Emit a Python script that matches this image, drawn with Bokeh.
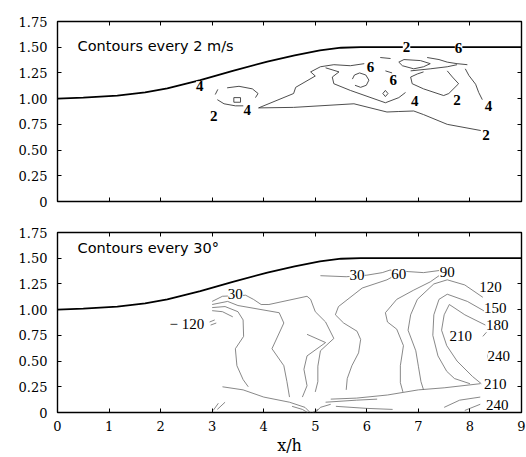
from bokeh.plotting import figure
from bokeh.layouts import column
from bokeh.models import (LinearAxis, FixedTicker, ColumnDataSource, LabelSet,
                          Label, Range1d)
from bokeh.embed import file_html
from bokeh.resources import INLINE

# ---------------- data ----------------
X_TICKS = [0, 1, 2, 3, 4, 5, 6, 7, 8, 9]
Y_TICKS = [0, 0.25, 0.5, 0.75, 1.0, 1.25, 1.5, 1.75]
Y_TICK_LABELS = ["0", "0.25", "0.50", "0.75", "1.00", "1.25", "1.50", "1.75"]
X_LABEL = "x/h"

TOP_TITLE = "Contours every 2 m/s"
BOT_TITLE = "Contours every 30°"

# hill / wall profile (same in both panels)
WALL_X = [0.0, 0.5, 1.16, 1.7, 2.13, 2.77, 3.4, 4.07, 4.6, 5.09, 5.5, 5.88, 9.0]
WALL_Y = [1.0, 1.01, 1.03, 1.06, 1.10, 1.18, 1.27, 1.36, 1.42, 1.47, 1.495, 1.50, 1.50]

# top panel: speed contours (each: xs, ys)
TOP_C4_UPPER_X = [3.90, 4.58, 4.62, 5.00, 4.91, 5.10, 5.36, 5.68, 5.95]
TOP_C4_UPPER_Y = [0.91, 1.05, 1.11, 1.22, 1.26, 1.31, 1.33, 1.32, 1.34]
TOP_C4_LOWER_X = [3.90, 4.58, 5.75, 6.39, 6.62, 6.91, 7.10, 7.56, 8.21]
TOP_C4_LOWER_Y = [0.91, 0.915, 0.95, 0.87, 0.875, 0.88, 0.845, 0.75, 0.69]
TOP_C6_INNER_X = [5.20, 5.46, 5.33, 5.36, 5.68, 6.36, 6.62, 6.75]
TOP_C6_INNER_Y = [1.30, 1.26, 1.21, 1.145, 1.08, 0.96, 1.01, 1.06]
TOP_ELLIPSE_X = [5.72, 5.76, 5.86, 5.98, 6.04, 5.99, 5.88, 5.77]
TOP_ELLIPSE_Y = [1.19, 1.23, 1.25, 1.23, 1.18, 1.13, 1.11, 1.13]
TOP_SMALL_X = [6.31, 6.36, 6.41, 6.36, 6.31]
TOP_SMALL_Y = [1.05, 1.08, 1.05, 1.02, 1.05]
TOP_LOOP_X = [6.62, 6.72, 7.04, 7.23, 7.10, 6.91, 6.69, 6.62]
TOP_LOOP_Y = [1.355, 1.38, 1.37, 1.34, 1.31, 1.29, 1.32, 1.355]
TOP_QUAD_X = [7.10, 6.98, 6.85, 6.88, 7.10, 7.49, 7.59, 7.78, 7.66, 7.56]
TOP_QUAD_Y = [1.26, 1.24, 1.21, 1.145, 1.095, 1.03, 1.05, 1.145, 1.21, 1.27]
TOP_MID_X = [6.85, 7.23, 7.56, 7.75]
TOP_MID_Y = [1.27, 1.29, 1.31, 1.33]
TOP_UR_X = [7.17, 7.40, 7.56, 7.75, 7.95]
TOP_UR_Y = [1.40, 1.38, 1.355, 1.34, 1.33]
TOP_C4_RIGHT_X = [7.91, 7.98, 8.11, 8.17, 8.24]
TOP_C4_RIGHT_Y = [1.29, 1.225, 1.14, 1.06, 0.99]
TOP_SHORT1_X = [6.36, 6.49]
TOP_SHORT1_Y = [1.27, 1.25]
TOP_SHORT2_X = [6.26, 6.46]
TOP_SHORT2_Y = [1.40, 1.39]
TOP_C2_LOW_X = [3.10, 3.23, 3.45, 3.61]
TOP_C2_LOW_Y = [0.99, 0.95, 0.93, 0.93]
TOP_C2_UP_X = [3.29, 3.52, 3.78, 3.89, 3.84]
TOP_C2_UP_Y = [1.105, 1.12, 1.095, 1.05, 1.01]
TOP_TICK_X = [3.06, 3.11]
TOP_TICK_Y = [1.04, 1.09]
TOP_SQ_X = [3.42, 3.55, 3.55, 3.42, 3.42]
TOP_SQ_Y = [0.965, 0.965, 1.01, 1.01, 0.965]

TOP_LAB_X = [2.76, 6.77, 7.78, 3.03, 3.68, 6.07, 6.51, 6.93, 7.75, 8.36, 8.31]
TOP_LAB_Y = [1.12, 1.50, 1.49, 0.835, 0.89, 1.31, 1.18, 0.98, 0.99, 0.93, 0.65]
TOP_LAB_T = ["4", "2", "6", "2", "4", "6", "6", "4", "2", "4", "2"]

# bottom panel: direction contours
BOT_TOP_X = [5.10, 5.60, 6.00, 6.30, 6.45, 6.80, 7.10, 7.40]
BOT_TOP_Y = [1.33, 1.32, 1.335, 1.36, 1.385, 1.37, 1.36, 1.38]
BOT_60_X = [6.50, 6.39, 5.91, 5.45, 5.39, 5.55, 5.81, 5.88, 5.84, 5.71, 5.62, 5.60]
BOT_60_Y = [1.32, 1.29, 1.21, 1.03, 0.95, 0.87, 0.79, 0.71, 0.58, 0.455, 0.33, 0.22]
BOT_90_X = [7.40, 7.23, 6.91, 6.58, 6.36, 6.40, 6.58, 6.71, 6.65, 6.65, 6.70]
BOT_90_Y = [1.33, 1.27, 1.19, 1.10, 0.97, 0.88, 0.81, 0.65, 0.455, 0.29, 0.20]
BOT_120_X = [8.25, 7.90, 7.56, 7.30, 6.98, 6.85, 6.80, 6.95, 7.00, 7.05, 7.10]
BOT_120_Y = [1.12, 1.24, 1.29, 1.25, 1.10, 0.95, 0.80, 0.60, 0.45, 0.30, 0.22]
BOT_150_X = [8.30, 7.95, 7.56, 7.40, 7.30, 7.28, 7.38, 7.55, 7.70, 8.00]
BOT_150_Y = [0.98, 1.08, 1.15, 1.10, 0.95, 0.75, 0.55, 0.40, 0.33, 0.28]
BOT_180_X = [8.30, 7.90, 7.60, 7.50, 7.45, 7.55, 7.75, 8.05, 8.22]
BOT_180_Y = [0.85, 0.95, 1.05, 0.95, 0.80, 0.65, 0.50, 0.35, 0.28]
BOT_210_X = [8.25, 8.32]
BOT_210_Y = [0.74, 0.78]
BOT_240_X = [8.37, 8.34, 8.37]
BOT_240_Y = [0.59, 0.55, 0.50]
BOT_30L_X = [3.00, 3.20, 3.65, 3.80, 3.95, 4.10, 4.84, 4.91, 5.00, 5.20, 5.36, 5.10, 5.05, 5.05, 5.00]
BOT_30L_Y = [1.08, 1.13, 1.14, 1.10, 1.05, 1.05, 1.13, 1.10, 0.98, 0.88, 0.72, 0.60, 0.45, 0.30, 0.20]
BOT_L2_X = [3.00, 3.30, 3.50, 4.30, 4.39, 4.16, 4.39, 4.45, 4.50]
BOT_L2_Y = [1.05, 1.08, 1.04, 0.97, 0.87, 0.62, 0.455, 0.30, 0.15]
BOT_L3_X = [3.00, 3.25, 3.50, 3.60, 3.61, 3.45, 3.48, 3.60, 3.70]
BOT_L3_Y = [1.02, 1.03, 0.98, 0.90, 0.74, 0.62, 0.455, 0.32, 0.25]
BOT_L4_X = [3.00, 3.20, 3.40]
BOT_L4_Y = [0.99, 0.98, 0.93]
BOT_V_X = [4.84, 5.20, 4.84, 4.78, 4.84, 4.75]
BOT_V_Y = [0.76, 0.68, 0.55, 0.42, 0.26, 0.15]
BOT_H1_X = [3.20, 3.60, 4.00, 4.50, 4.80, 4.90]
BOT_H1_Y = [0.25, 0.22, 0.15, 0.10, 0.05, 0.00]
BOT_H2_X = [5.30, 5.80, 6.40, 7.00, 7.50, 8.20]
BOT_H2_Y = [0.13, 0.14, 0.17, 0.22, 0.24, 0.28]
BOT_H3_X = [5.20, 5.80, 6.20]
BOT_H3_Y = [0.10, 0.12, 0.13]
BOT_H4_X = [5.40, 6.00, 6.50]
BOT_H4_Y = [0.06, 0.04, 0.03]
BOT_H5_X = [7.50, 7.80, 8.20]
BOT_H5_Y = [0.05, 0.12, 0.15]
BOT_H6_X = [7.90, 8.20]
BOT_H6_Y = [0.02, 0.08]
BOT_M1_X = [2.95, 3.05]
BOT_M1_Y = [0.88, 0.90]
BOT_M2_X = [2.97, 3.08]
BOT_M2_Y = [0.85, 0.87]
BOT_M3_X = [3.02, 3.12]
BOT_M3_Y = [0.02, 0.09]
BOT_M4_X = [3.10, 3.25]
BOT_M4_Y = [0.03, 0.10]
BOT_A1_X = [4.55, 4.75, 4.85]
BOT_A1_Y = [0.06, 0.03, 0.00]
BOT_A2_X = [5.00, 5.10, 5.30]
BOT_A2_Y = [0.00, 0.05, 0.08]
BOT_A3_X = [4.95, 5.05]
BOT_A3_Y = [0.00, 0.03]

BOT_LAB_X = [5.81, 6.62, 7.56, 8.40, 8.49, 8.53, 7.82, 8.56, 8.49, 8.53, 3.45, 2.51]
BOT_LAB_Y = [1.337, 1.35, 1.37, 1.22, 1.016, 0.846, 0.743, 0.551, 0.279, 0.07, 1.154, 0.862]
BOT_LAB_T = ["30", "60", "90", "120", "150", "180", "210", "240", "210", "240", "30", "\u2212 120"]

TOP_LINES = [(TOP_C4_UPPER_X, TOP_C4_UPPER_Y), (TOP_C4_LOWER_X, TOP_C4_LOWER_Y),
             (TOP_C6_INNER_X, TOP_C6_INNER_Y), (TOP_ELLIPSE_X, TOP_ELLIPSE_Y),
             (TOP_SMALL_X, TOP_SMALL_Y), (TOP_LOOP_X, TOP_LOOP_Y),
             (TOP_QUAD_X, TOP_QUAD_Y), (TOP_MID_X, TOP_MID_Y), (TOP_UR_X, TOP_UR_Y),
             (TOP_C4_RIGHT_X, TOP_C4_RIGHT_Y), (TOP_SHORT1_X, TOP_SHORT1_Y),
             (TOP_SHORT2_X, TOP_SHORT2_Y), (TOP_C2_LOW_X, TOP_C2_LOW_Y),
             (TOP_C2_UP_X, TOP_C2_UP_Y), (TOP_TICK_X, TOP_TICK_Y), (TOP_SQ_X, TOP_SQ_Y)]
BOT_LINES = [(BOT_TOP_X, BOT_TOP_Y), (BOT_60_X, BOT_60_Y), (BOT_90_X, BOT_90_Y),
             (BOT_120_X, BOT_120_Y), (BOT_150_X, BOT_150_Y), (BOT_180_X, BOT_180_Y),
             (BOT_210_X, BOT_210_Y), (BOT_240_X, BOT_240_Y), (BOT_30L_X, BOT_30L_Y),
             (BOT_L2_X, BOT_L2_Y), (BOT_L3_X, BOT_L3_Y), (BOT_L4_X, BOT_L4_Y),
             (BOT_V_X, BOT_V_Y), (BOT_H1_X, BOT_H1_Y), (BOT_H2_X, BOT_H2_Y),
             (BOT_H3_X, BOT_H3_Y), (BOT_H4_X, BOT_H4_Y), (BOT_H5_X, BOT_H5_Y),
             (BOT_H6_X, BOT_H6_Y), (BOT_M1_X, BOT_M1_Y), (BOT_M2_X, BOT_M2_Y),
             (BOT_M3_X, BOT_M3_Y), (BOT_M4_X, BOT_M4_Y), (BOT_A1_X, BOT_A1_Y),
             (BOT_A2_X, BOT_A2_Y), (BOT_A3_X, BOT_A3_Y)]

SERIF = "DejaVu Serif"
SANS = "DejaVu Sans"


def blank(ticks):
    return {t: "" for t in ticks}


def make_panel(height, top_border, bottom_border, show_x_labels):
    p = figure(width=526, height=height, output_backend="svg", toolbar_location=None,
               x_range=Range1d(0, 9), y_range=Range1d(0, 1.75),
               min_border_left=57, min_border_right=5,
               min_border_top=top_border, min_border_bottom=bottom_border,
               background_fill_color="white", border_fill_color="white")
    p.xgrid.visible = False
    p.ygrid.visible = False
    p.outline_line_color = "black"
    p.outline_line_width = 1.4
    p.outline_line_alpha = 1.0

    for ax in p.xaxis:
        ax.ticker = FixedTicker(ticks=X_TICKS)
        ax.major_tick_in = 4
        ax.major_tick_out = 0
        ax.minor_tick_line_color = None
        ax.axis_line_color = None
        ax.major_label_text_font = SERIF
        ax.major_label_text_color = "black"
        ax.major_label_text_font_size = "13px"
        if show_x_labels:
            ax.major_label_standoff = 8
            ax.axis_label = X_LABEL
            ax.axis_label_text_font = SERIF
            ax.axis_label_text_font_size = "16px"
            ax.axis_label_text_font_style = "normal"
            ax.axis_label_text_color = "black"
            ax.axis_label_standoff = 2
        else:
            ax.major_label_overrides = blank(X_TICKS)
            ax.major_label_standoff = 0
    for ax in p.yaxis:
        ax.ticker = FixedTicker(ticks=Y_TICKS)
        ax.major_label_overrides = {t: s for t, s in zip(Y_TICKS, Y_TICK_LABELS)}
        ax.major_tick_in = 4
        ax.major_tick_out = 0
        ax.minor_tick_line_color = None
        ax.axis_line_color = None
        ax.major_label_text_font = SERIF
        ax.major_label_text_font_size = "13px"
        ax.major_label_text_color = "black"
        ax.major_label_standoff = 10

    top_ax = LinearAxis(ticker=FixedTicker(ticks=X_TICKS), major_tick_in=4, major_tick_out=0,
                        minor_tick_line_color=None, axis_line_color=None,
                        major_label_overrides=blank(X_TICKS), major_label_standoff=0)
    right_ax = LinearAxis(ticker=FixedTicker(ticks=Y_TICKS), major_tick_in=4, major_tick_out=0,
                          minor_tick_line_color=None, axis_line_color=None,
                          major_label_overrides=blank(Y_TICKS), major_label_standoff=0)
    p.add_layout(top_ax, "above")
    p.add_layout(right_ax, "right")
    return p


def add_content(p, lines, lab_x, lab_y, lab_t, bold, title, title_y, color, width):
    p.multi_line(xs=[l[0] for l in lines], ys=[l[1] for l in lines],
                 line_color=color, line_width=width)
    p.line(WALL_X, WALL_Y, line_color="black", line_width=1.8)
    src = ColumnDataSource(dict(x=lab_x, y=lab_y, t=lab_t))
    p.add_layout(LabelSet(x="x", y="y", text="t", source=src,
                          text_align="center", text_baseline="middle",
                          text_font=SERIF, text_font_size="15px",
                          text_font_style="bold" if bold else "normal",
                          text_color="black",
                          background_fill_color="white", background_fill_alpha=1.0))
    p.add_layout(Label(x=0.39, y=title_y, text=title, text_font=SANS,
                       text_font_size="14.5px", text_baseline="middle",
                       text_align="left", text_color="black"))


top = make_panel(211, 21, 10, False)
add_content(top, TOP_LINES, TOP_LAB_X, TOP_LAB_Y, TOP_LAB_T, True, TOP_TITLE, 1.51,
            "#3a3a3a", 0.9)

bot = make_panel(246, 21, 43, True)
add_content(bot, BOT_LINES, BOT_LAB_X, BOT_LAB_Y, BOT_LAB_T, False, BOT_TITLE, 1.60,
            "#6a6a6a", 0.8)

layout = column(top, bot, spacing=0)
open("out.html", "w").write(file_html(layout, INLINE))
